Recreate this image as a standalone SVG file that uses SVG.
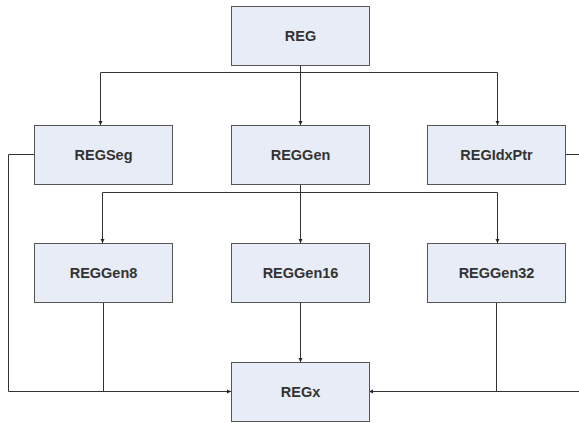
<svg xmlns="http://www.w3.org/2000/svg" width="579" height="423" viewBox="0 0 579 423">
<style>
.box{fill:#e8ecf6;stroke:#555;stroke-width:1}
.lbl{font-family:"Liberation Sans",Arial,sans-serif;font-weight:bold;font-size:14.5px;fill:#333;text-anchor:middle}
.c{fill:none;stroke:#333;stroke-width:1}
</style>
<defs>
<marker id="ah" markerWidth="5" markerHeight="5" refX="4" refY="2.5" orient="auto" markerUnits="userSpaceOnUse">
<path d="M0,0.5 L4,2.5 L0,4.5 Z" fill="#222"/>
</marker>
</defs>
<rect width="579" height="423" fill="#fff"/>
<g id="connectors">
<path class="c" d="M300.5,66 V72.5"/>
<path class="c" d="M100.5,72.5 H497.5"/>
<path class="c" d="M100.5,72.5 V125" marker-end="url(#ah)"/>
<path class="c" d="M300.5,72.5 V125" marker-end="url(#ah)"/>
<path class="c" d="M497.5,72.5 V125" marker-end="url(#ah)"/>
<path class="c" d="M300.5,184 V243" marker-end="url(#ah)"/>
<path class="c" d="M102.5,192.5 H497.5"/>
<path class="c" d="M102.5,192.5 V243" marker-end="url(#ah)"/>
<path class="c" d="M497.5,192.5 V243" marker-end="url(#ah)"/>
<path class="c" d="M300.5,303 V362" marker-end="url(#ah)"/>
<path class="c" d="M34,154.5 H8.5 V391.5 H231" marker-end="url(#ah)"/>
<path class="c" d="M103.5,303 V391.5"/>
<path class="c" d="M565,154.5 H579"/>
<path class="c" d="M579,391.5 H369" marker-end="url(#ah)"/>
<path class="c" d="M496.5,303 V391.5"/>
</g>
<g id="REG"><rect class="box" x="231.5" y="6.5" width="138" height="59"/><text class="lbl" x="300.5" y="41">REG</text></g>
<g id="REGSeg"><rect class="box" x="34.5" y="125.5" width="138" height="59"/><text class="lbl" x="103.5" y="160">REGSeg</text></g>
<g id="REGGen"><rect class="box" x="231.5" y="125.5" width="138" height="59"/><text class="lbl" x="300.5" y="160">REGGen</text></g>
<g id="REGIdxPtr"><rect class="box" x="427.5" y="125.5" width="138" height="59"/><text class="lbl" x="496.5" y="160">REGIdxPtr</text></g>
<g id="REGGen8"><rect class="box" x="34.5" y="243.5" width="138" height="59"/><text class="lbl" x="103.5" y="278">REGGen8</text></g>
<g id="REGGen16"><rect class="box" x="231.5" y="243.5" width="138" height="59"/><text class="lbl" x="300.5" y="278">REGGen16</text></g>
<g id="REGGen32"><rect class="box" x="427.5" y="243.5" width="138" height="59"/><text class="lbl" x="496.5" y="278">REGGen32</text></g>
<g id="REGx"><rect class="box" x="231.5" y="362.5" width="138" height="59"/><text class="lbl" x="300.5" y="397">REGx</text></g>
</svg>
